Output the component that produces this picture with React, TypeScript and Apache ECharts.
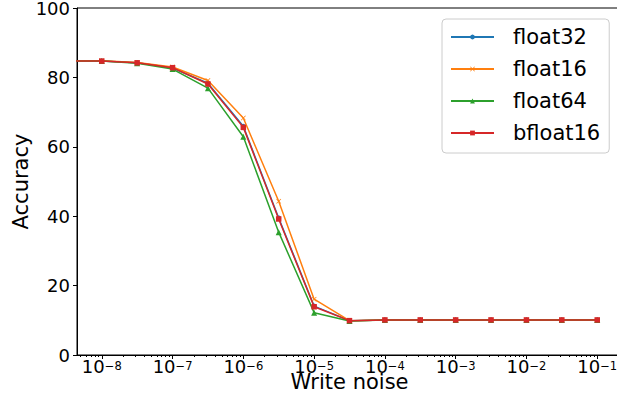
import React, { useEffect, useRef } from "react";
import * as echarts from "echarts";

// Write-noise levels (the first entry stands for noise = 0, drawn off the left edge as in the log plot)
const noiseLevels = [1e-12, 1e-8, 3.16e-8, 1e-7, 3.16e-7, 1e-6, 3.16e-6, 1e-5, 3.16e-5, 1e-4, 3.16e-4, 1e-3, 3.16e-3, 1e-2, 3.16e-2, 1e-1];

const float32Acc = [84.7, 84.7, 84.2, 82.7, 78.3, 65.9, 39.5, 14.1, 9.9, 10.1, 10.1, 10.1, 10.1, 10.1, 10.1, 10.1];
const float16Acc = [84.8, 84.8, 84.3, 83.0, 79.1, 68.3, 44.3, 16.1, 9.9, 10.1, 10.1, 10.1, 10.1, 10.1, 10.1, 10.1];
const float64Acc = [84.7, 84.7, 84.1, 82.4, 76.9, 62.9, 35.4, 12.2, 9.8, 10.1, 10.1, 10.1, 10.1, 10.1, 10.1, 10.1];
const bfloat16Acc = [84.7, 84.7, 84.2, 82.8, 78.1, 65.6, 39.2, 13.9, 9.9, 10.1, 10.1, 10.1, 10.1, 10.1, 10.1, 10.1];

const seriesNames = ["float32", "float16", "float64", "bfloat16"];
const majorTicks = [1e-8, 1e-7, 1e-6, 1e-5, 1e-4, 1e-3, 1e-2, 1e-1];
const minorMultipliers = [2, 3, 4, 5, 6, 7, 8, 9];
const yTicks = [0, 20, 40, 60, 80, 100];

const FONT = "DejaVu Sans";
const X_MIN = 4.467e-9;
const X_MAX = 0.2239;

const minorTicks: number[] = [];
[1e-9, ...majorTicks].forEach((d) => minorMultipliers.forEach((m) => {
  const v = d * m;
  if (v > X_MIN && v < X_MAX) minorTicks.push(v);
}));

const crossPath = "path://M0,1L1,0L5,4L9,0L10,1L6,5L10,9L9,10L5,6L1,10L0,9L4,5Z";

export default function App() {
  const ref = useRef<HTMLDivElement>(null);
  useEffect(() => {
    document.body.style.margin = "0";
    const chart = echarts.init(ref.current!, null, { renderer: "svg" });
    const accs = [float32Acc, float16Acc, float64Acc, bfloat16Acc];
    const colors = ["#1f77b4", "#ff7f0e", "#2ca02c", "#d62728"];
    const symbols = ["circle", crossPath, "triangle", "rect"];
    const sizes = [5, 5, 6, 5.5];
    chart.setOption({
      animation: false,
      backgroundColor: "#fff",
      textStyle: { fontFamily: FONT },
      grid: { left: 77, top: 8, width: 545, height: 347, outerBoundsMode: "none", containLabel: false, show: true, borderColor: "#000", borderWidth: 1, backgroundColor: "transparent" },
      legend: {
        orient: "vertical",
        left: 442,
        top: 19,
        padding: [6, 9, 8, 8],
        itemGap: 8,
        itemWidth: 43,
        itemHeight: 6,
        borderColor: "#cccccc",
        borderWidth: 1,
        borderRadius: 4,
        backgroundColor: "rgba(255,255,255,0.8)",
        data: seriesNames,
        textStyle: { fontFamily: FONT, fontSize: 21, color: "#000", lineHeight: 24, padding: [0, 0, 0, 14] },
      },
      xAxis: [
        {
          type: "log",
          min: X_MIN,
          max: X_MAX,
          name: "Write noise",
          nameLocation: "middle",
          nameGap: 19,
          nameMoveOverlap: false,
          nameTextStyle: { fontFamily: FONT, fontSize: 21, lineHeight: 16, color: "#000" },
          axisLine: { lineStyle: { color: "#000", width: 1 } },
          axisTick: { length: 4, lineStyle: { color: "#000" }, customValues: majorTicks },
          splitLine: { show: false },
          minorTick: { show: false },
          axisLabel: {
            customValues: majorTicks,
            margin: 5,
            color: "#000",
            formatter: (v: number) => `{b|10}{s|−${Math.round(-Math.log10(v))}}`,
            rich: {
              b: { fontFamily: FONT, fontSize: 18, color: "#000", lineHeight: 15, verticalAlign: "bottom" },
              s: { fontFamily: FONT, fontSize: 11.5, color: "#000", lineHeight: 5, verticalAlign: "top" },
            },
          },
        },
        {
          type: "log",
          min: X_MIN,
          max: X_MAX,
          position: "bottom",
          axisLine: { show: false },
          axisTick: { length: 2, lineStyle: { color: "#000" }, customValues: minorTicks },
          axisLabel: { show: false },
          splitLine: { show: false },
        },
      ],
      yAxis: {
        type: "value",
        min: 0,
        max: 100,
        interval: 20,
        name: "Accuracy",
        nameLocation: "middle",
        nameGap: 46,
        nameMoveOverlap: false,
        nameTextStyle: { fontFamily: FONT, fontSize: 21, color: "#000" },
        axisLine: { show: true, lineStyle: { color: "#000", width: 1 } },
        axisTick: { show: true, length: 4, lineStyle: { color: "#000" } },
        splitLine: { show: false },
        axisLabel: { fontFamily: FONT, fontSize: 18, color: "#000", margin: 7, customValues: yTicks },
      },
      series: seriesNames.map((name, i) => ({
        name,
        type: "line",
        xAxisIndex: 0,
        clip: true,
        data: noiseLevels.map((x, j) => [x, accs[i][j]]),
        symbol: symbols[i],
        symbolSize: sizes[i],
        showAllSymbol: true,
        color: colors[i],
        lineStyle: { width: 1.5, color: colors[i] },
        itemStyle: { color: colors[i] },
        z: 2 + i,
      })),
    });
    return () => chart.dispose();
  }, []);
  return <div ref={ref} style={{ position: "fixed", left: 0, top: 0, width: 617, height: 404 }} />;
}
